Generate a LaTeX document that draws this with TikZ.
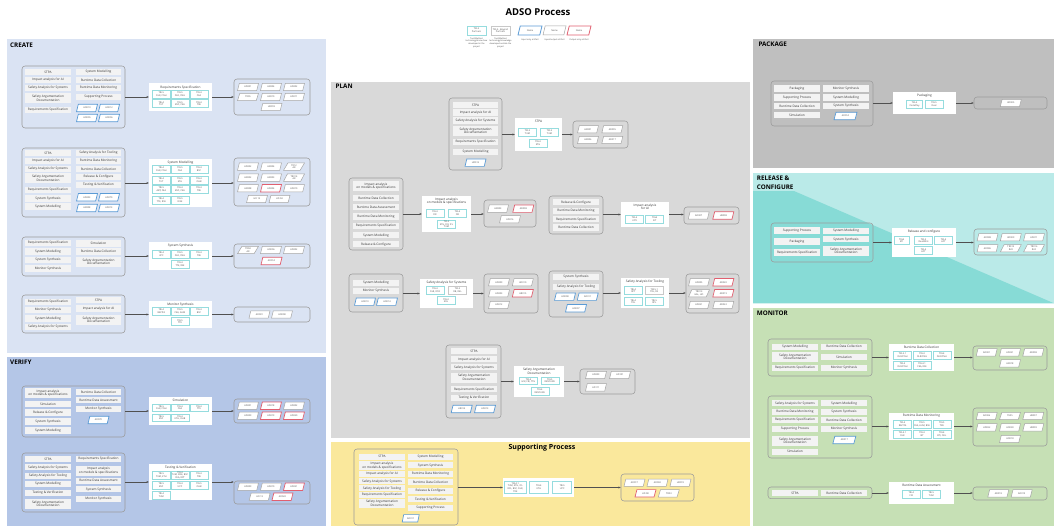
\documentclass[tikz,border=0pt]{standalone}
\usepackage{fontspec}
\setmainfont{Open Sans}
\usetikzlibrary{shapes.geometric,arrows.meta}

\definecolor{createbg}{RGB}{218,227,243}
\definecolor{verifybg}{RGB}{180,198,231}
\definecolor{planbg}{RGB}{217,217,217}
\definecolor{supportbg}{RGB}{250,232,156}
\definecolor{packagebg}{RGB}{191,191,191}
\definecolor{releaselight}{RGB}{186,234,232}
\definecolor{releasedark}{RGB}{135,219,214}
\definecolor{monitorbg}{RGB}{198,224,181}
\definecolor{itemfill}{RGB}{243,243,243}
\definecolor{grpline}{RGB}{155,155,155}
\definecolor{tealline}{RGB}{150,220,222}
\definecolor{taskgrayline}{RGB}{200,200,200}
\definecolor{artline}{RGB}{165,165,165}
\definecolor{artblue}{RGB}{91,155,213}
\definecolor{artred}{RGB}{224,96,112}
\definecolor{flowline}{RGB}{80,80,80}

\newcounter{nid}
\newcommand\smallfont{\fontsize{3.15}{3.6}\selectfont}
\newcommand\tinyfont{\fontsize{2.3}{2.7}\selectfont}

\tikzset{
  itembox/.style={fill=itemfill, inner sep=0pt, minimum height=6.2pt, font=\smallfont, align=center, text=black!80},
  itembox2/.style={itembox, minimum height=10pt},
  grpbox/.style={draw=grpline, rounded corners=3pt, line width=0.55pt, inner sep=0pt},
  procbox/.style={fill=white, inner sep=0pt},
  ptitle/.style={font=\smallfont, align=center, inner sep=0pt, text=black!80},
  taskbox/.style={draw=tealline, fill=white, line width=0.6pt, inner sep=0pt, minimum width=18pt, minimum height=7.8pt, font=\tinyfont, align=center, text=black!70},
  taskgray/.style={draw=taskgrayline},
  artbox/.style={trapezium, trapezium left angle=66, trapezium right angle=114, trapezium stretches=true, draw=artline, fill=white, line width=0.5pt, inner sep=0pt, minimum width=21pt, minimum height=7.4pt, font=\tinyfont, align=center, text=black!70},
  artin/.style={draw=artblue, line width=0.7pt},
  artout/.style={draw=artred, line width=0.7pt},
  flow/.style={draw=flowline, line width=0.55pt, -{Stealth[length=2.4pt, width=2pt]}},
  sectitle/.style={font=\bfseries\fontsize{6.3}{9}\selectfont, anchor=west, inner sep=0pt, align=left},
}

% group frame, process box, list item, task box, artifact, process title, flow arrows
\newcommand\dgrp[5]{\node[grpbox, minimum width={#4-#2}, minimum height={#5-#3}] (#1) at ({(#2+#4)/2},{(#3+#5)/2}) {};}
\newcommand\dproc[5]{\node[procbox, minimum width={#4-#2}, minimum height={#5-#3}] (#1) at ({(#2+#4)/2},{(#3+#5)/2}) {};}
\newcommand\ditm[5][itembox]{\stepcounter{nid}\node[#1, minimum width={#3-#2}] (it\arabic{nid}) at ({(#2+#3)/2},#4) {#5};}
\newcommand\dtsk[4][]{\stepcounter{nid}\node[taskbox,#1] (tk\arabic{nid}) at (#2,#3) {#4};}
\newcommand\dart[4][]{\stepcounter{nid}\node[artbox,#1] (ar\arabic{nid}) at (#2,#3) {#4};}
\newcommand\dptl[4]{\node[ptitle] (#1) at (#2,#3) {#4};}
\newcommand\dflow[3]{\draw[flow] (#2.west -| #1.east) -- (#2.west); \draw[flow] (#2.east) -- (#2.east -| #3.west);}

\begin{document}
\begin{tikzpicture}[x=1pt,y=-1pt]
\useasboundingbox (0,0) rectangle (1054,526);
\fill[white] (0,0) rectangle (1054,526);

% ---------- title and legend ----------
\node[font=\bfseries\fontsize{9.5}{11}\selectfont, inner sep=0pt] (title) at (538,12) {ADSO Process};
\node[taskbox, minimum width=19pt, minimum height=9pt] (lgown) at (476.5,30.5) {TRL5\\Partners};
\node[taskbox, taskgray, minimum width=19pt, minimum height=9pt] (lgext) at (500.5,30.5) {TRL5 - Beyond\\Partners};
\node[font=\fontsize{2.1}{2.6}\selectfont, align=center, inner sep=0pt, anchor=north, text=black!70] (lgowntx) at (476.5,37.5) {Tool/Method\\technology/know-how\\developed in the\\project};
\node[font=\fontsize{2.1}{2.6}\selectfont, align=center, inner sep=0pt, anchor=north, text=black!70] (lgexttx) at (500.5,37.5) {Tool/Method\\technology/knowledge\\developed outside the\\project};
\node[artbox, artin, line width=0.8pt, minimum width=24pt, minimum height=9pt] (lgin) at (530,30.5) {Name};
\node[artbox, minimum width=23pt, minimum height=9pt] (lgio) at (554.5,30.5) {Name};
\node[artbox, artout, line width=0.8pt, minimum width=24pt, minimum height=9pt] (lgout) at (579,30.5) {Name};
\node[font=\fontsize{2.1}{2.6}\selectfont, inner sep=0pt, text=black!70] (lgintx) at (530,39.5) {Input only artifact};
\node[font=\fontsize{2.1}{2.6}\selectfont, inner sep=0pt, text=black!70] (lgiotx) at (554.5,39.5) {Input/output artifact};
\node[font=\fontsize{2.1}{2.6}\selectfont, inner sep=0pt, text=black!70] (lgouttx) at (579,39.5) {Output only artifact};

% ---------- region backgrounds ----------
\fill[createbg] (7,39) rectangle (326,353);
\fill[verifybg] (7,357.3) rectangle (326,526);
\fill[planbg] (331,82.5) rectangle (750,437.7);
\fill[supportbg] (331,441.5) rectangle (750,526);
\fill[packagebg] (753,39) rectangle (1054,168.3);
\fill[releaselight] (753,173.3) rectangle (1054,303.3);
\fill[releasedark] (753,173.3) -- (1054,303.3) -- (753,303.3) -- cycle;
\fill[releaselight] (753,173.3) rectangle (798,191);
\fill[monitorbg] (753,308.3) rectangle (1054,526);

\node[sectitle] (tcreate) at (10,45) {CREATE};
\node[sectitle] (tverify) at (10,362.3) {VERIFY};
\node[sectitle] (tplan) at (335.5,86.7) {PLAN};
\node[sectitle] (tpackage) at (758.3,44.7) {PACKAGE};
\node[sectitle] (trelease) at (756.7,182.8) {RELEASE \&\\CONFIGURE};
\node[sectitle] (tmonitor) at (756.7,313.7) {MONITOR};
\node[font=\bfseries\fontsize{7}{8}\selectfont, inner sep=0pt] (tsupport) at (542,448) {Supporting Process};

% =============== CREATE ===============
% Requirements Specification
\dgrp{cin1}{22}{66}{125}{128}
\ditm{25}{71}{72}{STPA}
\ditm{25}{71}{80}{Impact analysis for AI}
\ditm{25}{71}{88}{Safety Analysis for Systems}
\ditm[itembox2]{25}{71}{98.5}{Safety Argumentation\\Documentation}
\ditm{25}{71}{110}{Requirements Specification}
\ditm{76}{121}{72}{System Modelling}
\ditm{76}{121}{80}{Runtime Data Collection}
\ditm{76}{121}{88}{Runtime Data Monitoring}
\ditm{76}{121}{97}{Supporting Process}
\dart[artin]{87}{108}{HD010}
\dart[artin]{109}{108}{HD012}
\dart[artin]{87}{118}{HD005}
\dart[artin]{109}{118}{HD006}
\dproc{cp1}{149}{83}{212}{111}
\dptl{cp1t}{180.5}{87.5}{Requirements Specification}
\dtsk{161.3}{94}{TRL5\\DLR, CNH}
\dtsk{180}{94}{TRL5\\DLR, CNH}
\dtsk{199}{94}{TRL4\\CEA}
\dtsk{161.3}{103.7}{TRL4\\TUT}
\dtsk{180}{103.7}{TRL5\\BSC, CEA}
\dtsk{199}{103.7}{TRL4\\TRE}
\dgrp{cout1}{234}{79}{310}{115}
\dart{248}{87}{AD001}
\dart{271}{87}{HR004}
\dart{294}{87}{AD002}
\dart{248}{97}{TR05}
\dart{271}{97}{HR010}
\dart{294}{97}{AD011}
\dart{271.5}{107}{HR018}
\dflow{cin1}{cp1}{cout1}

% System Modelling
\dgrp{cin2}{22}{148}{125}{217}
\ditm{25}{71}{153}{STPA}
\ditm{25}{71}{161}{Impact analysis for AI}
\ditm{25}{71}{169}{Safety Analysis for Systems}
\ditm[itembox2]{25}{71}{178.5}{Safety Argumentation\\Documentation}
\ditm{25}{71}{190}{Requirements Specification}
\ditm{25}{71}{198.5}{System Synthesis}
\ditm{25}{71}{206.5}{System Modelling}
\ditm{76}{121}{153}{Safety Analysis for Tooling}
\ditm{76}{121}{161}{Runtime Data Monitoring}
\ditm{76}{121}{169}{Runtime Data Collection}
\ditm{76}{121}{177}{Release \& Configure}
\ditm{76}{121}{185}{Testing \& Verification}
\dart[artin]{87}{197.3}{AD003}
\dart[artin]{109}{197.3}{AD070}
\dart[artin]{87}{208}{HR008}
\dart[artin]{109}{208}{AD013}
\dproc{cp2}{149}{159}{212}{207}
\dptl{cp2t}{180.5}{162.5}{System Modelling}
\dtsk{161.3}{169.5}{TRL4\\DLR, CNH}
\dtsk{180}{169.5}{TRL5\\CEA}
\dtsk{199}{169.5}{TRL4\\BSC}
\dtsk{161.3}{180}{TRL4\\TUT}
\dtsk{180}{180}{TRL5\\KTH}
\dtsk{199}{180}{TRL4\\OHB}
\dtsk{161.3}{189.5}{TRL5\\ABT, CEA}
\dtsk{180}{189.5}{TRL4\\BSC, CEA}
\dtsk{199}{189.5}{TRL4\\TRE}
\dtsk{161.3}{200}{TRL4\\TTE, RSE}
\dtsk{180}{200}{TRL5\\RISE}
\dgrp{cout2}{234}{158}{310}{206}
\dart{248}{166.7}{AD002}
\dart{271}{166.7}{HR004}
\dart{294}{166.7}{TR12\\AR}
\dart{248}{177.7}{HR002}
\dart{271}{177.7}{HR003}
\dart{294}{177.7}{TR014\\AR}
\dart{248}{188.3}{HR008}
\dart[artout]{271}{188.3}{AD004}
\dart{294}{188.3}{AD010}
\dart{257}{199}{HD 13}
\dart{279.5}{199}{HD 04}
\dflow{cin2}{cp2}{cout2}

% System Synthesis
\dgrp{cin3}{22}{237}{125}{276}
\ditm{25}{71}{243}{Requirements Specification}
\ditm{25}{71}{251.5}{System Modelling}
\ditm{25}{71}{260}{System Synthesis}
\ditm{25}{71}{268.5}{Monitor Synthesis}
\ditm{76}{121}{243.5}{Simulation}
\ditm{76}{121}{251.5}{Runtime Data Collection}
\ditm[itembox2]{76}{121}{262}{Safety Argumentation\\Documentation}
\dproc{cp3}{149}{242}{212}{270}
\dptl{cp3t}{180.5}{245.5}{System Synthesis}
\dtsk{161.3}{254}{TRL4\\UPC}
\dtsk{180}{254}{TRL5\\DLR, CNH}
\dtsk{199}{254}{TRL4\\TRE}
\dtsk{180}{264.3}{TRL4\\TTE, RSE}
\dgrp{cout3}{234}{244}{310}{268}
\dart{248}{250}{TR04\\AR}
\dart{271}{250}{HD006}
\dart{294}{250}{AD002}
\dart[artout]{271.5}{261}{AD014}
\dflow{cin3}{cp3}{cout3}

% Monitor Synthesis
\dgrp{cin4}{22}{295}{125}{333}
\ditm{25}{71}{302}{Requirements Specification}
\ditm{25}{71}{310}{Monitor Synthesis}
\ditm{25}{71}{318.5}{System Modelling}
\ditm{25}{71}{327}{Safety Analysis for Systems}
\ditm{76}{121}{300}{STPA}
\ditm{76}{121}{308.5}{Impact analysis for AI}
\ditm[itembox2]{76}{121}{320}{Safety Argumentation\\Documentation}
\dproc{cp4}{149}{301}{212}{328}
\dptl{cp4t}{180.5}{304.5}{Monitor Synthesis}
\dtsk{161.3}{311}{TRL4\\RAPITA}
\dtsk{180}{311}{TRL5\\CEA, AUM}
\dtsk{199}{311}{TRL4\\BSC}
\dtsk{180}{321.7}{TRL5\\TTE}
\dgrp{cout4}{234}{307}{310}{322}
\dart{259.5}{314.5}{AD001}
\dart{282}{314.5}{HD008}
\dflow{cin4}{cp4}{cout4}

% =============== VERIFY ===============
% Simulation
\dgrp{vin1}{22}{386}{125}{437}
\ditm[itembox2]{25}{71}{393}{Impact analysis\\on models \& specifications}
\ditm{25}{71}{404}{Simulation}
\ditm{25}{71}{412.5}{Release \& Configure}
\ditm{25}{71}{421.5}{System Synthesis}
\ditm{25}{71}{430.5}{System Modelling}
\ditm{76}{121}{392}{Runtime Data Collection}
\ditm{76}{121}{400}{Runtime Data Assessment}
\ditm{76}{121}{409}{Monitor Synthesis}
\dart[artin]{98.5}{420}{AD070}
\dproc{vp1}{149}{397}{212}{425}
\dptl{vp1t}{180.5}{400.5}{Simulation}
\dtsk{161.3}{407.7}{TRL5\\DLR, CNH}
\dtsk{180}{407.7}{TRL4\\CEA}
\dtsk{199}{407.7}{TRL4\\TTE}
\dtsk{161.3}{417.7}{TRL5\\BSC}
\dtsk{180}{417.7}{TRL4\\KTH, OHB}
\dgrp{vout1}{234}{399}{310}{423}
\dart{248}{405.7}{AD001}
\dart[artout]{271}{405.7}{AD018}
\dart{294}{405.7}{AD002}
\dart{248}{415.7}{AD009}
\dart[artout]{271}{415.7}{AD019}
\dart[artout]{294}{415.7}{AD020}
\dflow{vin1}{vp1}{vout1}

% Testing & Verification
\dgrp{vin2}{22}{453}{125}{512}
\ditm{25}{71}{459}{STPA}
\ditm{25}{71}{467.3}{Safety Analysis for Systems}
\ditm{25}{71}{475.7}{Safety Analysis for Tooling}
\ditm{25}{71}{484}{System Modelling}
\ditm{25}{71}{492.7}{Testing \& Verification}
\ditm[itembox2]{25}{71}{504}{Safety Argumentation\\Documentation}
\ditm{76}{121}{459}{Requirements Specification}
\ditm[itembox2]{76}{121}{470.5}{Impact analysis\\on models \& specifications}
\ditm{76}{121}{480.7}{Runtime Data Assessment}
\ditm{76}{121}{489.3}{System Synthesis}
\ditm{76}{121}{498.7}{Monitor Synthesis}
\dproc{vp2}{149}{464}{212}{500}
\dptl{vp2t}{180.5}{467.5}{Testing \& Verification}
\dtsk{161.3}{475.3}{TRL5\\TUM, KTH}
\dtsk{180}{475.3}{TRL4\\TUM, RISE, BSC\\CEA, RPT}
\dtsk{199}{475.3}{TRL4\\TRE}
\dtsk{161.3}{485}{TRL5\\BSC}
\dtsk{180}{485}{TRL4\\UPC}
\dtsk{199}{485}{TRL5\\OHB}
\dtsk{161.3}{495}{TRL4\\TUM}
\dgrp{vout2}{234}{481}{310}{504}
\dart{248}{486.7}{AD009}
\dart{271}{486.7}{AD010}
\dart[artout]{294}{486.7}{AD021}
\dart{259.7}{496.7}{HD 13}
\dart[artout]{282.5}{496.7}{AD022}
\dflow{vin2}{vp2}{vout2}

% =============== PLAN ===============
% STPA
\dgrp{pin1}{449}{98}{502}{170}
\ditm{453}{498}{105}{STPA}
\ditm{453}{498}{112.5}{Impact analysis for AI}
\ditm{453}{498}{120.5}{Safety Analysis for Systems}
\ditm[itembox2]{453}{498}{131}{Safety Argumentation\\Documentation}
\ditm{453}{498}{142}{Requirements Specification}
\ditm{453}{498}{152}{System Modelling}
\dart[artin]{475.5}{162.7}{HD012}
\dproc{pp1}{515}{118}{562}{151}
\dptl{pp1t}{538.5}{121.7}{STPA}
\dtsk{527.5}{132}{TRL5\\TUM}
\dtsk{549.5}{132}{TRL5\\TUM}
\dtsk{538}{143.3}{TRL4\\KTH}
\dgrp{pout1}{573}{121}{628}{148}
\dart{588}{129.3}{HR001}
\dart{612.3}{129.3}{AD005}
\dart{588}{140}{HR006}
\dart{612.3}{140}{AD017}
\dflow{pin1}{pp1}{pout1}

% Impact analysis on models & specifications
\dgrp{pin2}{349}{178}{403}{250}
\ditm[itembox2]{353}{399}{186}{Impact analysis\\on models \& specifications}
\ditm{353}{399}{198.3}{Runtime Data Collection}
\ditm{353}{399}{207.3}{Runtime Data Assessment}
\ditm{353}{399}{216.5}{Runtime Data Monitoring}
\ditm{353}{399}{226}{Requirements Specification}
\ditm{353}{399}{235.3}{System Modelling}
\ditm{353}{399}{244.3}{Release \& Configure}
\dproc{pp2}{422}{196}{471}{232}
\dptl{pp2t}{446.5}{201}{Impact analysis\\on models \& specifications}
\dtsk{435}{213.3}{TRL4\\FIR}
\dtsk{457.5}{213.3}{TRL4\\FIR}
\dtsk[minimum height=8.6pt]{446.5}{224.2}{TRL5\\KTH, FIR, ICL\\TUM}
\dgrp{pout2}{484}{200}{536}{227}
\dart{498}{208.7}{HR003}
\dart[artout]{523.3}{208.7}{AD008}
\dart{510}{219.3}{AD016}
\dflow{pin2}{pp2}{pout2}

% Impact analysis for AI
\dgrp{pin3}{549}{196}{603}{234}
\ditm{553}{599}{202.3}{Release \& Configure}
\ditm{553}{599}{211}{Runtime Data Monitoring}
\ditm{553}{599}{219.3}{Requirements Specification}
\ditm{553}{599}{227.5}{Runtime Data Collection}
\dproc{pp3}{621}{202}{669}{227}
\dptl{pp3t}{645}{207}{Impact analysis\\for AI}
\dtsk{634.5}{219.3}{TRL4\\UOY}
\dtsk{654.7}{219.3}{TRL4\\IKT}
\dgrp{pout3}{684}{207}{739}{224}
\dart{698.7}{215.5}{AD007}
\dart[artout]{723.3}{215.5}{HR008}
\dflow{pin3}{pp3}{pout3}

% Safety Analysis for Systems
\dgrp{pin4}{349}{274}{403}{312}
\ditm{353}{399}{282.7}{System Modelling}
\ditm{353}{399}{291}{Monitor Synthesis}
\dart[artin]{365}{301.7}{HD010}
\dart[artin]{387}{301.7}{HD014}
\dproc{pp4}{420}{279}{473}{308}
\dptl{pp4t}{446.5}{282.7}{Safety Analysis for Systems}
\dtsk{435}{290}{TRL4\\DLR, FOR}
\dtsk[taskgray]{457.5}{290}{TRL5\\DB, DEL}
\dtsk{446}{300.7}{TRL4\\KRL}
\dgrp{pout4}{484}{274}{538}{313}
\dart{499}{282.3}{AD009}
\dart{522.8}{282.3}{AD010}
\dart{499}{293.3}{AD003}
\dart[artout]{522.8}{293.3}{HR015}
\dart{499}{305}{AD012}
\dflow{pin4}{pp4}{pout4}

% Safety Analysis for Tooling
\dgrp{pin5}{549}{271}{603}{317}
\ditm{553}{599}{276.7}{System Synthesis}
\ditm{553}{599}{286.7}{Safety Analysis for Tooling}
\dart[artin]{565}{296.7}{HD008}
\dart[artin]{587.7}{296.7}{AD011}
\dart[artin]{576}{308.3}{HD007}
\dproc{pp5}{621}{278}{669}{308}
\dptl{pp5t}{645}{281.7}{Safety Analysis for Tooling}
\dtsk{633.3}{290.7}{TRL4\\RPT}
\dtsk[taskgray]{654.3}{290.7}{TRL5.1\\TRL, RS}
\dtsk{633.3}{301.7}{TRL4\\TRL}
\dtsk{654.3}{301.7}{TRL5\\RPL}
\dgrp{pout5}{686}{274}{739}{313}
\dart{699}{282.3}{AD005}
\dart[artout]{723.3}{282.3}{AD020}
\dart{699}{293.3}{TR013\\HAL, HO}
\dart[artout]{723.3}{293.3}{AD019}
\dart{699}{305}{AD021}
\dart{723.3}{305}{AD022}
\dflow{pin5}{pp5}{pout5}

% Safety Argumentation Documentation
\dgrp{pin6}{446}{345}{501}{418}
\ditm{451}{497}{351}{STPA}
\ditm{451}{497}{359.3}{Impact analysis for AI}
\ditm{451}{497}{367.3}{Safety Analysis for Systems}
\ditm[itembox2]{451}{497}{377.5}{Safety Argumentation\\Documentation}
\ditm{451}{497}{389.3}{Requirements Specification}
\ditm{451}{497}{398}{Testing \& Verification}
\dart[artin]{461.7}{409}{HR014}
\dart[artin]{485}{409}{AD013}
\dproc{pp6}{514}{366}{564}{397}
\dptl{pp6t}{539}{371.3}{Safety Argumentation\\Documentation}
\dtsk{528.5}{380.7}{TRL4\\HSF, FRI, TTH}
\dtsk{549.8}{380.7}{TRL5\\RESOURE}
\dtsk{539.8}{391}{TRL4\\RESOURE}
\dgrp{pout6}{580}{369}{635}{394}
\dart{596}{375}{AD009}
\dart{620}{375}{AD101}
\dart{596}{387.3}{AD111}
\dflow{pin6}{pp6}{pout6}

% =============== SUPPORTING PROCESS ===============
\dgrp{sin}{354}{449}{458}{525}
\ditm[itembox, minimum height=5.8pt]{359}{405}{456.7}{STPA}
\ditm[itembox, minimum height=8.8pt]{359}{405}{465.8}{Impact analysis\\on models \& specifications}
\ditm[itembox, minimum height=5.8pt]{359}{405}{474}{Impact analysis for AI}
\ditm[itembox, minimum height=5.8pt]{359}{405}{481.3}{Safety Analysis for Systems}
\ditm[itembox, minimum height=5.8pt]{359}{405}{488.2}{Safety Analysis for Tooling}
\ditm[itembox, minimum height=5.8pt]{359}{405}{495}{Requirements Specification}
\ditm[itembox, minimum height=8.8pt]{359}{405}{503.5}{Safety Argumentation\\Documentation}
\ditm[itembox, minimum height=5.8pt]{408}{453}{456.7}{System Modelling}
\ditm[itembox, minimum height=5.8pt]{408}{453}{465.3}{System Synthesis}
\ditm[itembox, minimum height=5.8pt]{408}{453}{473.7}{Runtime Data Monitoring}
\ditm[itembox, minimum height=5.8pt]{408}{453}{482}{Runtime Data Collection}
\ditm[itembox, minimum height=5.8pt]{408}{453}{490.7}{Release \& Configure}
\ditm[itembox, minimum height=5.8pt]{408}{453}{499.3}{Testing \& Verification}
\ditm[itembox, minimum height=5.8pt]{408}{453}{507.7}{Supporting Process}
\dart[artin, minimum width=17pt]{410.7}{518.3}{AD011}
\dproc{sp}{503}{478}{574}{497}
\dtsk[minimum width=22.5pt, minimum height=12.3pt]{515.3}{487.3}{TRL4.1\\TUM, KTH, ICL\\RPL, BSC, DLR,\\TRE}
\dtsk[minimum width=19pt, minimum height=12.3pt]{538.8}{487.3}{TRL4\\KTH}
\dtsk[minimum width=19pt, minimum height=12.3pt]{562.2}{487.3}{TRL5\\UPC}
\dgrp{sout}{621}{474}{694}{501}
\dart{634.5}{482.7}{AD017}
\dart{657.5}{482.7}{AD002}
\dart{680.5}{482.7}{HR019}
\dart[artout]{645.5}{493.3}{HD 08}
\dart{668.8}{493.3}{TD03}
\dflow{sin}{sp}{sout}

% =============== PACKAGE ===============
\dgrp{kin}{771}{81}{873}{126}
\ditm[itembox, minimum height=6.6pt]{774}{820}{88.3}{Packaging}
\ditm[itembox, minimum height=6.6pt]{774}{820}{97.3}{Supporting Process}
\ditm[itembox, minimum height=6.6pt]{774}{820}{106}{Runtime Data Collection}
\ditm[itembox, minimum height=6.6pt]{774}{820}{115}{Simulation}
\ditm[itembox, minimum height=6.6pt]{823}{869}{88.3}{Monitor Synthesis}
\ditm[itembox, minimum height=6.6pt]{823}{869}{97.3}{System Modelling}
\ditm[itembox, minimum height=6.6pt]{823}{869}{106}{System Synthesis}
\dart[artin, minimum width=23pt]{845.5}{116}{AD014}
\dproc{kp}{893}{92}{956}{114}
\dptl{kpt}{924.5}{95.3}{Packaging}
\dtsk[minimum width=15.5pt]{914.5}{104.3}{TRL4\\CodePlay}
\dtsk{934}{104.3}{TRL5\\Deal}
\dgrp{kout}{974}{97}{1047}{109}
\dart{1010.8}{103}{AD005}
\dflow{kin}{kp}{kout}

% =============== RELEASE & CONFIGURE ===============
\dgrp{rin}{771}{223}{873}{262}
\ditm[itembox, minimum height=6.8pt]{774}{820}{230.7}{Supporting Process}
\ditm[itembox, minimum height=7.2pt]{774}{820}{241.7}{Packaging}
\ditm[itembox, minimum height=7.2pt]{774}{820}{252.7}{Requirements Specification}
\ditm{823}{869}{230.7}{System Modelling}
\ditm{823}{869}{239.3}{System Synthesis}
\ditm[itembox2]{823}{869}{250.7}{Safety Argumentation\\Documentation}
\dproc{rp}{892}{228}{956}{257}
\dptl{rpt}{924}{231.7}{Release and configure}
\dtsk[minimum width=15.3pt]{901.7}{240.7}{TRL4\\ETI}
\dtsk{923.5}{240.7}{TRL5\\Deal/Wrk}
\dtsk{943.5}{240.7}{TRL4\\ACT}
\dtsk{923.5}{250.7}{TRL4\\ACT}
\dgrp{rout}{974}{229}{1047}{255}
\dart{987.5}{237.3}{AD008}
\dart{1010.8}{237.3}{AD009}
\dart{1034}{237.3}{AD011}
\dart{987.5}{248.3}{AD006}
\dart{1010.8}{248.3}{TR015\\RLR}
\dart{1034}{248.3}{TR016\\RLR}
\dflow{rin}{rp}{rout}

% =============== MONITOR ===============
% Runtime Data Collection
\dgrp{min1}{768}{339}{872}{376}
\ditm{772}{818}{346.7}{System Modelling}
\ditm[itembox2]{772}{818}{356.7}{Safety Argumentation\\Documentation}
\ditm{772}{818}{367.7}{Requirements Specification}
\ditm{821}{867}{346.7}{Runtime Data Collection}
\ditm{821}{867}{357.3}{Simulation}
\ditm{821}{867}{367.7}{Monitor Synthesis}
\dproc{mp1}{889}{344}{954}{371}
\dptl{mp1t}{921.5}{347.3}{Runtime Data Collection}
\dtsk{902.5}{355}{TRL5.1\\DLR/CNH}
\dtsk{922}{355}{TRL4\\DLR/CNH}
\dtsk{941.8}{355}{TRL4\\DLR/CNH}
\dtsk{902.5}{365}{TRL4\\DLR/CNH}
\dtsk{922}{365}{TRL4.1\\CEA, RSE}
\dgrp{mout1}{973}{346}{1047}{370}
\dart{986.7}{352.3}{AD001}
\dart{1010}{352.3}{AD021}
\dart{1033.3}{352.3}{AD008}
\dart{1010}{363.3}{HR018}
\dflow{min1}{mp1}{mout1}

% Runtime Data Monitoring
\dgrp{min2}{768}{396}{872}{458}
\ditm{772}{818}{403.3}{Safety Analysis for Systems}
\ditm{772}{818}{411.7}{Runtime Data Monitoring}
\ditm{772}{818}{420}{Requirements Specification}
\ditm{772}{818}{429}{Supporting Process}
\ditm[itembox2]{772}{818}{440.8}{Safety Argumentation\\Documentation}
\ditm{772}{818}{451.7}{Simulation}
\ditm{821}{867}{403.3}{System Modelling}
\ditm{821}{867}{411.7}{System Synthesis}
\ditm{821}{867}{420}{Runtime Data Collection}
\ditm{821}{867}{429}{Monitor Synthesis}
\dart[artin, minimum width=23pt]{844.3}{440}{AD017}
\dproc{mp2}{889}{413}{954}{440}
\dptl{mp2t}{921.5}{416}{Runtime Data Monitoring}
\dtsk{902.5}{424.3}{TRL4\\RAPITA}
\dtsk{922}{424.3}{TRL5\\CEA, AUM, BSE}
\dtsk{941.8}{424.3}{TRL5\\TRE}
\dtsk{902.5}{434.3}{TRL4.1\\DLR}
\dtsk{922}{434.3}{TRL4\\IKT}
\dtsk{941.8}{434.3}{TRL4\\BTI, OKL}
\dgrp{mout2}{973}{408}{1047}{446}
\dart{986.7}{416}{AD006}
\dart{1010}{416}{TE05}
\dart{1033.3}{416}{HR007}
\dart{986.7}{427.3}{HD032}
\dart{1010}{427.3}{HD030}
\dart{1033.3}{427.3}{HR009}
\dart{1010}{439}{HD018}
\dflow{min2}{mp2}{mout2}

% Runtime Data Assessment
\dgrp{min3}{768}{487}{872}{498.7}
\ditm{772}{818}{493}{STPA}
\ditm{821}{867}{493}{Runtime Data Collection}
\dproc{mp3}{889}{482}{954}{504}
\dptl{mp3t}{921.5}{485}{Runtime Data Assessment}
\dtsk{911.3}{494}{TRL4\\FIR}
\dtsk{931.3}{494}{TRL5\\TUM}
\dgrp{mout3}{973}{487}{1047}{500}
\dart{998.3}{493.3}{AD018}
\dart{1021.7}{493.3}{AD019}
\dflow{min3}{mp3}{mout3}

\end{tikzpicture}
\end{document}
